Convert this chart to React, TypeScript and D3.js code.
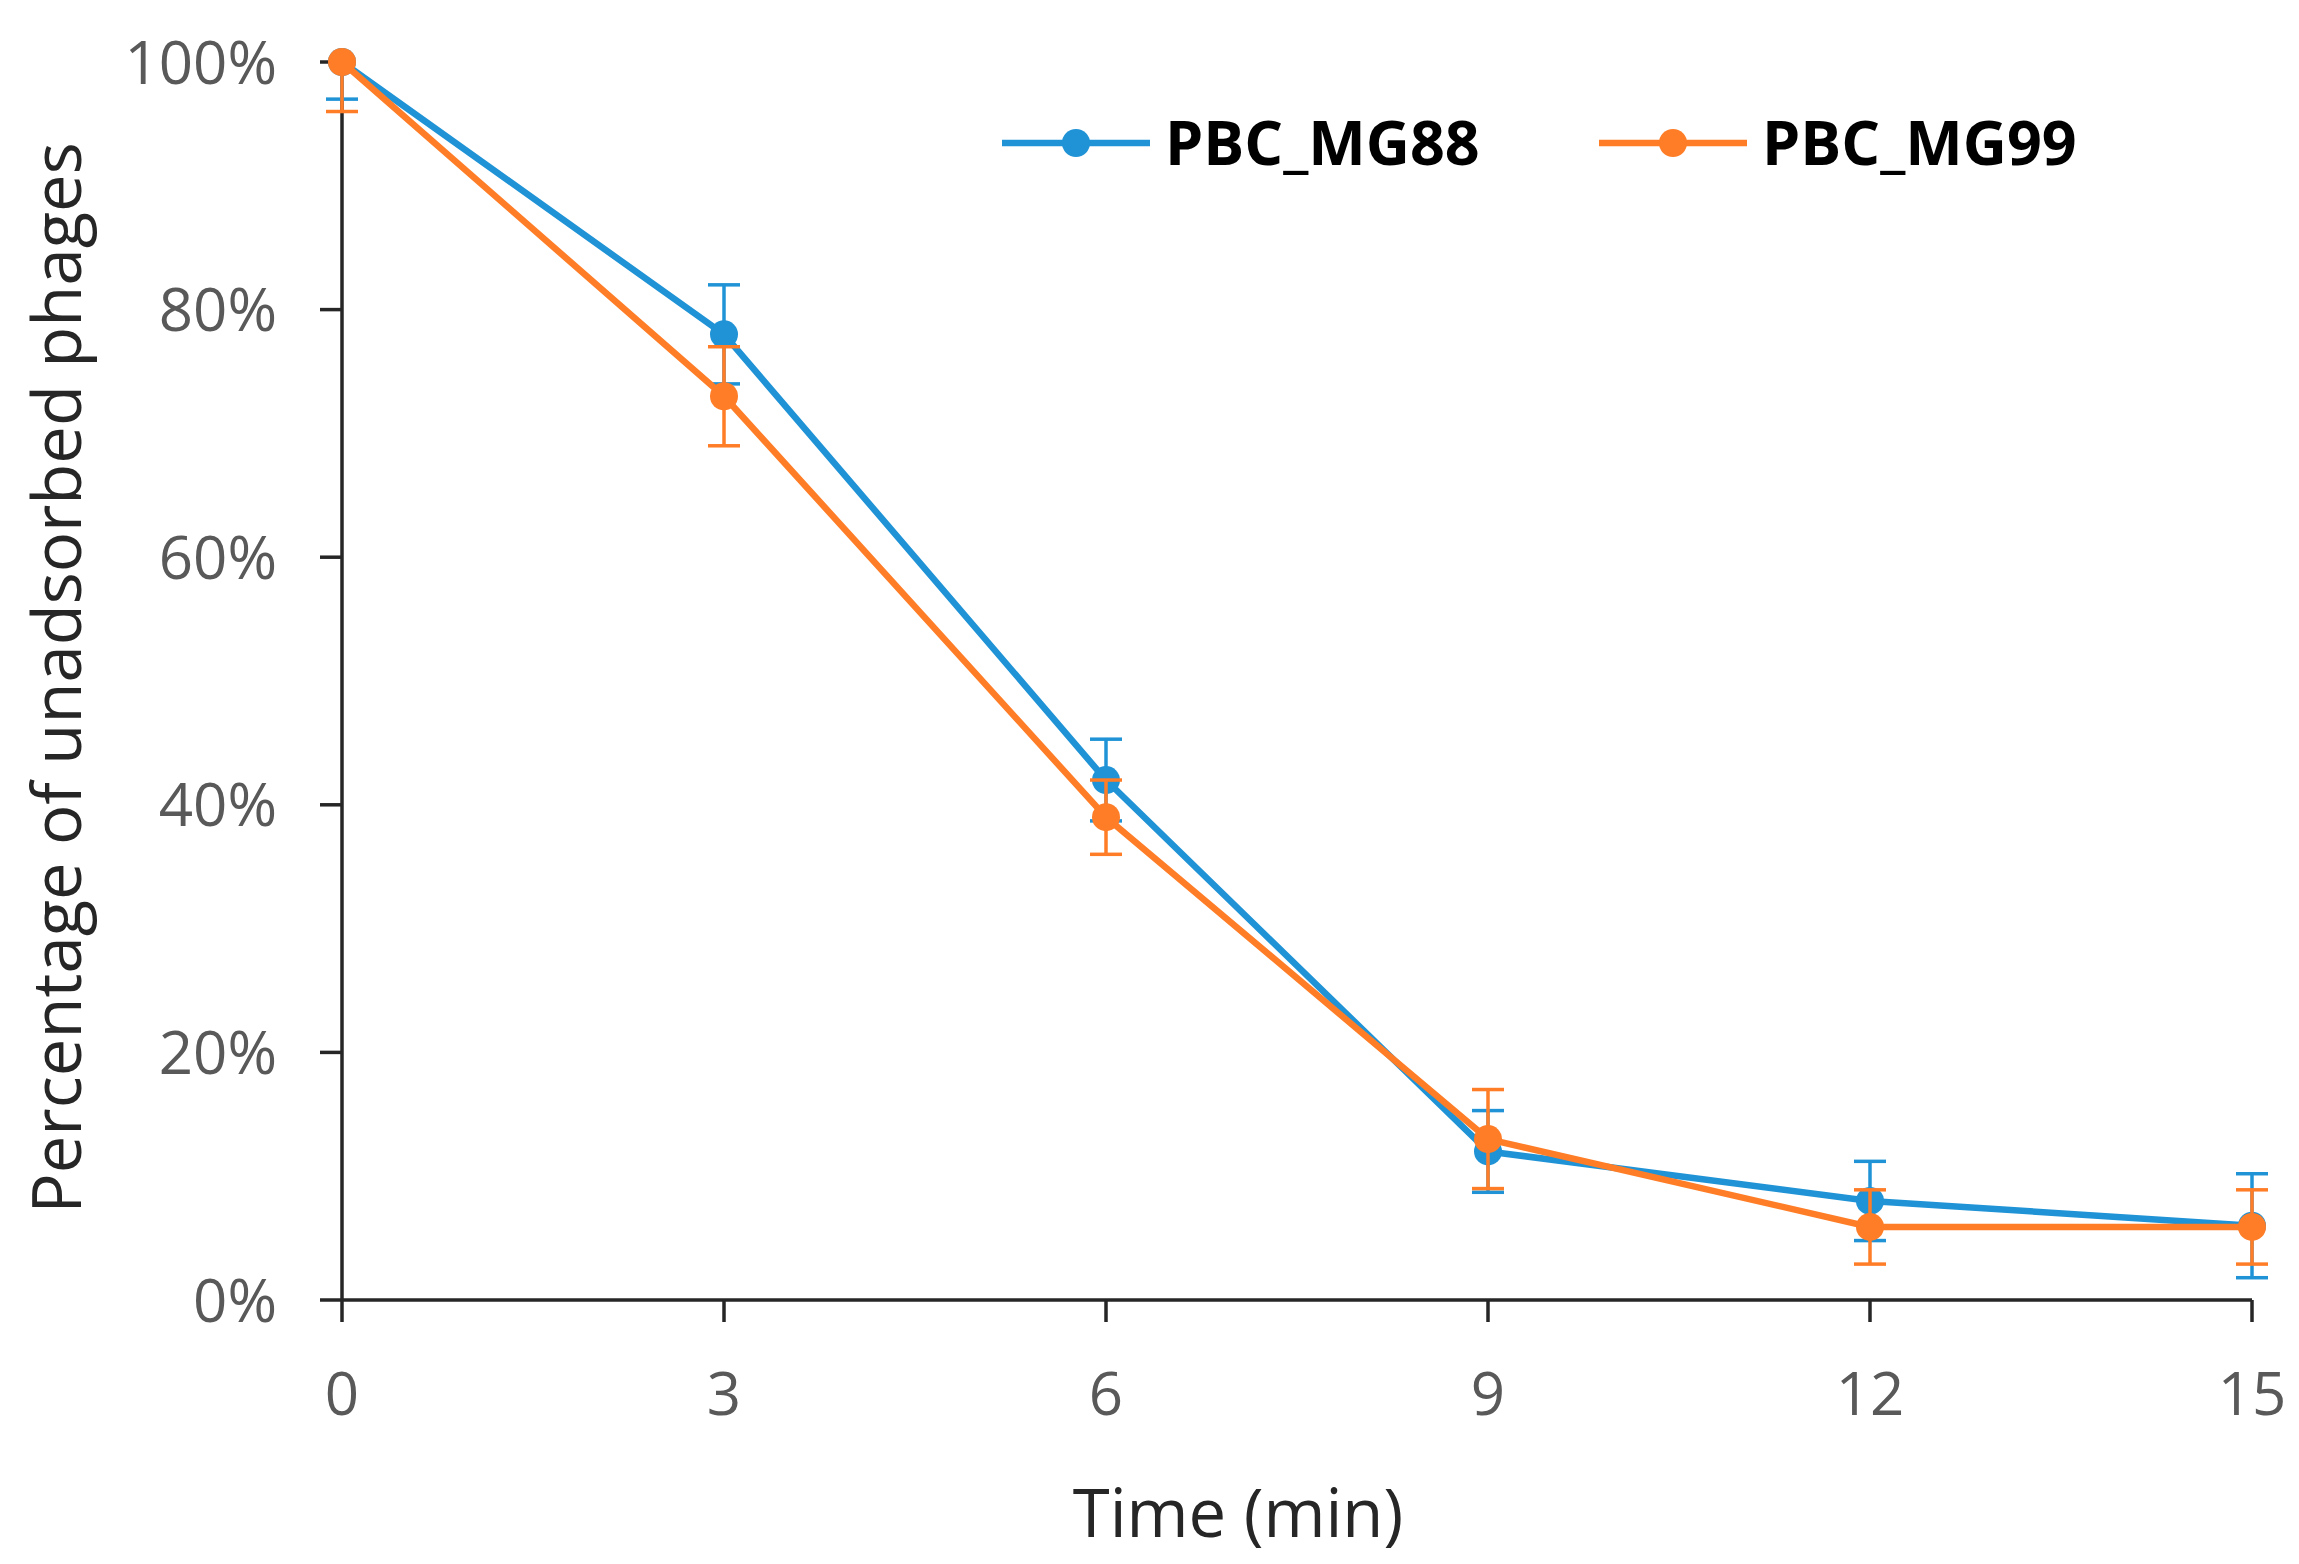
import React from "react";
import * as d3 from "d3";

const times = [0, 3, 6, 9, 12, 15];
const mg88 = [1.0, 0.78, 0.42, 0.12, 0.08, 0.06];
const mg88Err = [0.03, 0.04, 0.033, 0.033, 0.032, 0.042];
const mg99 = [1.0, 0.73, 0.39, 0.13, 0.059, 0.059];
const mg99Err = [0.04, 0.04, 0.03, 0.04, 0.03, 0.03];
const xTicks = [0, 3, 6, 9, 12, 15];
const yTicks = [0, 0.2, 0.4, 0.6, 0.8, 1.0];
const seriesNames = ["PBC_MG88", "PBC_MG99"];
const seriesColors = ["#1f93d6", "#ff7d27"];

const W = 2299;
const H = 1564;

export default function App() {
  const x = d3.scaleLinear().domain([0, 15]).range([342, 2252]);
  const y = d3.scaleLinear().domain([0, 1]).range([1300, 62]);
  const line = d3
    .line<number>()
    .x((_, i) => x(times[i]))
    .y((d) => y(d));

  const series = [
    { name: seriesNames[0], vals: mg88, err: mg88Err, color: seriesColors[0] },
    { name: seriesNames[1], vals: mg99, err: mg99Err, color: seriesColors[1] },
  ];
  const fontFam = "'Open Sans', 'DejaVu Sans', sans-serif";
  const axisColor = "#262626";
  const capHalf = 16;

  const legendX = [1002, 1599];
  const legendY = 143;

  return (
    <svg
      width={W}
      height={H}
      style={{ position: "absolute", left: 0, top: 0, background: "#fff" }}
      fontFamily={fontFam}
    >
      <defs>
        <clipPath id="plotClip">
          <rect x={x(0) - 60} y={y(1)} width={x(15) - x(0) + 120} height={y(0) - y(1) + 60} />
        </clipPath>
      </defs>
      <rect width={W} height={H} fill="#fff" />

      {/* axes */}
      <line x1={x(0)} x2={x(0)} y1={y(0)} y2={y(1)} stroke={axisColor} strokeWidth={3.5} />
      <line x1={x(0)} x2={x(15)} y1={y(0)} y2={y(0)} stroke={axisColor} strokeWidth={3.5} />
      {yTicks.map((t) => (
        <g key={"yt" + t}>
          <line x1={x(0) - 22} x2={x(0)} y1={y(t)} y2={y(t)} stroke={axisColor} strokeWidth={3.5} />
          <text
            x={277}
            y={y(t)}
            dy="0.36em"
            textAnchor="end"
            fontSize={60}
            fill="#595959"
          >
            {d3.format(".0%")(t)}
          </text>
        </g>
      ))}
      {xTicks.map((t) => (
        <g key={"xt" + t}>
          <line x1={x(t)} x2={x(t)} y1={y(0)} y2={y(0) + 22} stroke={axisColor} strokeWidth={3.5} />
          <text x={x(t)} y={1415} textAnchor="middle" fontSize={60} fill="#595959">
            {t}
          </text>
        </g>
      ))}

      {/* axis titles */}
      <text x={1238} y={1537} textAnchor="middle" fontSize={67} fill={axisColor}>
        Time (min)
      </text>
      <text
        transform={`translate(81, 678) rotate(-90)`}
        textAnchor="middle"
        fontSize={67}
        fill={axisColor}
      >
        Percentage of unadsorbed phages
      </text>

      {/* series */}
      {series.map((s) => (
        <g key={s.name}>
          <path d={line(s.vals) || ""} fill="none" stroke={s.color} strokeWidth={6.5} strokeLinejoin="round" />
          <g clipPath="url(#plotClip)">
            {s.vals.map((v, i) => (
              <g key={i} stroke={s.color} strokeWidth={3.5}>
                <line x1={x(times[i])} x2={x(times[i])} y1={y(v + s.err[i])} y2={y(v - s.err[i])} />
                <line
                  x1={x(times[i]) - capHalf}
                  x2={x(times[i]) + capHalf}
                  y1={y(v + s.err[i])}
                  y2={y(v + s.err[i])}
                />
                <line
                  x1={x(times[i]) - capHalf}
                  x2={x(times[i]) + capHalf}
                  y1={y(v - s.err[i])}
                  y2={y(v - s.err[i])}
                />
              </g>
            ))}
          </g>
          {s.vals.map((v, i) => (
            <circle key={"m" + i} cx={x(times[i])} cy={y(v)} r={14} fill={s.color} />
          ))}
        </g>
      ))}

      {/* legend */}
      {series.map((s, i) => (
        <g key={"lg" + s.name}>
          <line
            x1={legendX[i]}
            x2={legendX[i] + 148}
            y1={legendY}
            y2={legendY}
            stroke={s.color}
            strokeWidth={6.5}
          />
          <circle cx={legendX[i] + 74} cy={legendY} r={14} fill={s.color} />
          <text
            x={legendX[i] + 163}
            y={legendY}
            dy="0.36em"
            fontSize={61}
            fontWeight="bold"
            fill="#000"
          >
            {s.name}
          </text>
        </g>
      ))}
    </svg>
  );
}
